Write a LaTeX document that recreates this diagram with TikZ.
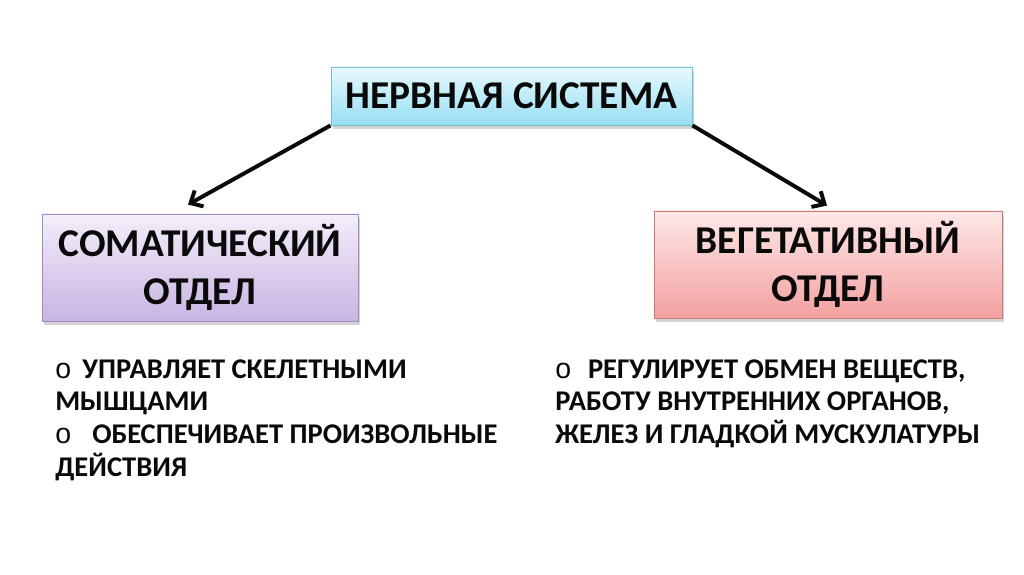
\documentclass[tikz,border=0pt]{standalone}
\usepackage{fontspec}
\setmainfont{Carlito}
\newfontfamily\bulletfont{Liberation Sans}
\usepackage{tikz}
\usetikzlibrary{positioning, calc, arrows.meta, shadows}
\definecolor{ink}{RGB}{10, 10, 10}
\definecolor{cyantop}{RGB}{232, 249, 253}
\definecolor{cyanbot}{RGB}{150, 222, 242}
\definecolor{cyanline}{RGB}{120, 190, 210}
\definecolor{lilactop}{RGB}{244, 238, 250}
\definecolor{lilacbot}{RGB}{200, 180, 226}
\definecolor{lilacline}{RGB}{160, 140, 190}
\definecolor{rosetop}{RGB}{253, 232, 232}
\definecolor{rosebot}{RGB}{243, 160, 160}
\definecolor{roseline}{RGB}{205, 120, 120}

\begin{document}
\begin{tikzpicture}[
    x=0.025cm, y=-0.025cm,
    font=\bfseries,
    box/.style={rectangle, align=center, inner sep=0pt, line width=0.6pt,
      font=\fontsize{28}{34}\selectfont\bfseries, text=ink,
      drop shadow={shadow xshift=1.5pt, shadow yshift=-2.5pt, opacity=0.35}},
    topbox/.style={box, draw=cyanline, top color=cyantop, bottom color=cyanbot,
      minimum width=9.025cm, minimum height=1.45cm},
    leftbox/.style={box, draw=lilacline, top color=lilactop, bottom color=lilacbot,
      minimum width=7.9cm, minimum height=2.675cm},
    rightbox/.style={box, draw=roseline, top color=rosetop, bottom color=rosebot,
      minimum width=8.7cm, minimum height=2.675cm},
    notes/.style={align=left, inner sep=0pt, text=ink,
      font=\fontsize{20.3}{23.3}\selectfont\bfseries},
    arr/.style={-{Straight Barb[length=7pt, width=13pt]}, line width=2.8pt, draw=ink}
  ]
  \useasboundingbox (0,0) rectangle (1024,574);

  % Boxes
  \node[topbox] (nerv) at (511.5,96) {НЕРВНАЯ СИСТЕМА};
  \node[leftbox] (soma) at (200,267.5) {СОМАТИЧЕСКИЙ\\ОТДЕЛ};
  \node[rightbox] (vege) at (828,264.5) {ВЕГЕТАТИВНЫЙ\\ОТДЕЛ};

  % Notes
  \node[notes, anchor=north west] (somanote) at (55,359)
    {{\bulletfont\mdseries o}\hspace{8pt}УПРАВЛЯЕТ СКЕЛЕТНЫМИ\\
     МЫШЦАМИ\\
     {\bulletfont\mdseries o}\hspace{15pt}ОБЕСПЕЧИВАЕТ ПРОИЗВОЛЬНЫЕ\\
     ДЕЙСТВИЯ};
  \node[notes, anchor=north west] (vegenote) at (555,359)
    {{\bulletfont\mdseries o}\hspace{12pt}РЕГУЛИРУЕТ ОБМЕН ВЕЩЕСТВ,\\
     РАБОТУ ВНУТРЕННИХ ОРГАНОВ,\\
     ЖЕЛЕЗ И ГЛАДКОЙ МУСКУЛАТУРЫ};

  % Arrows
  \draw[arr] (nerv.south west) -- ([shift={(-12,-9)}]soma.north);
  \draw[arr] (nerv.south east) -- ([shift={(-1,-5)}]vege.north);
\end{tikzpicture}
\end{document}
